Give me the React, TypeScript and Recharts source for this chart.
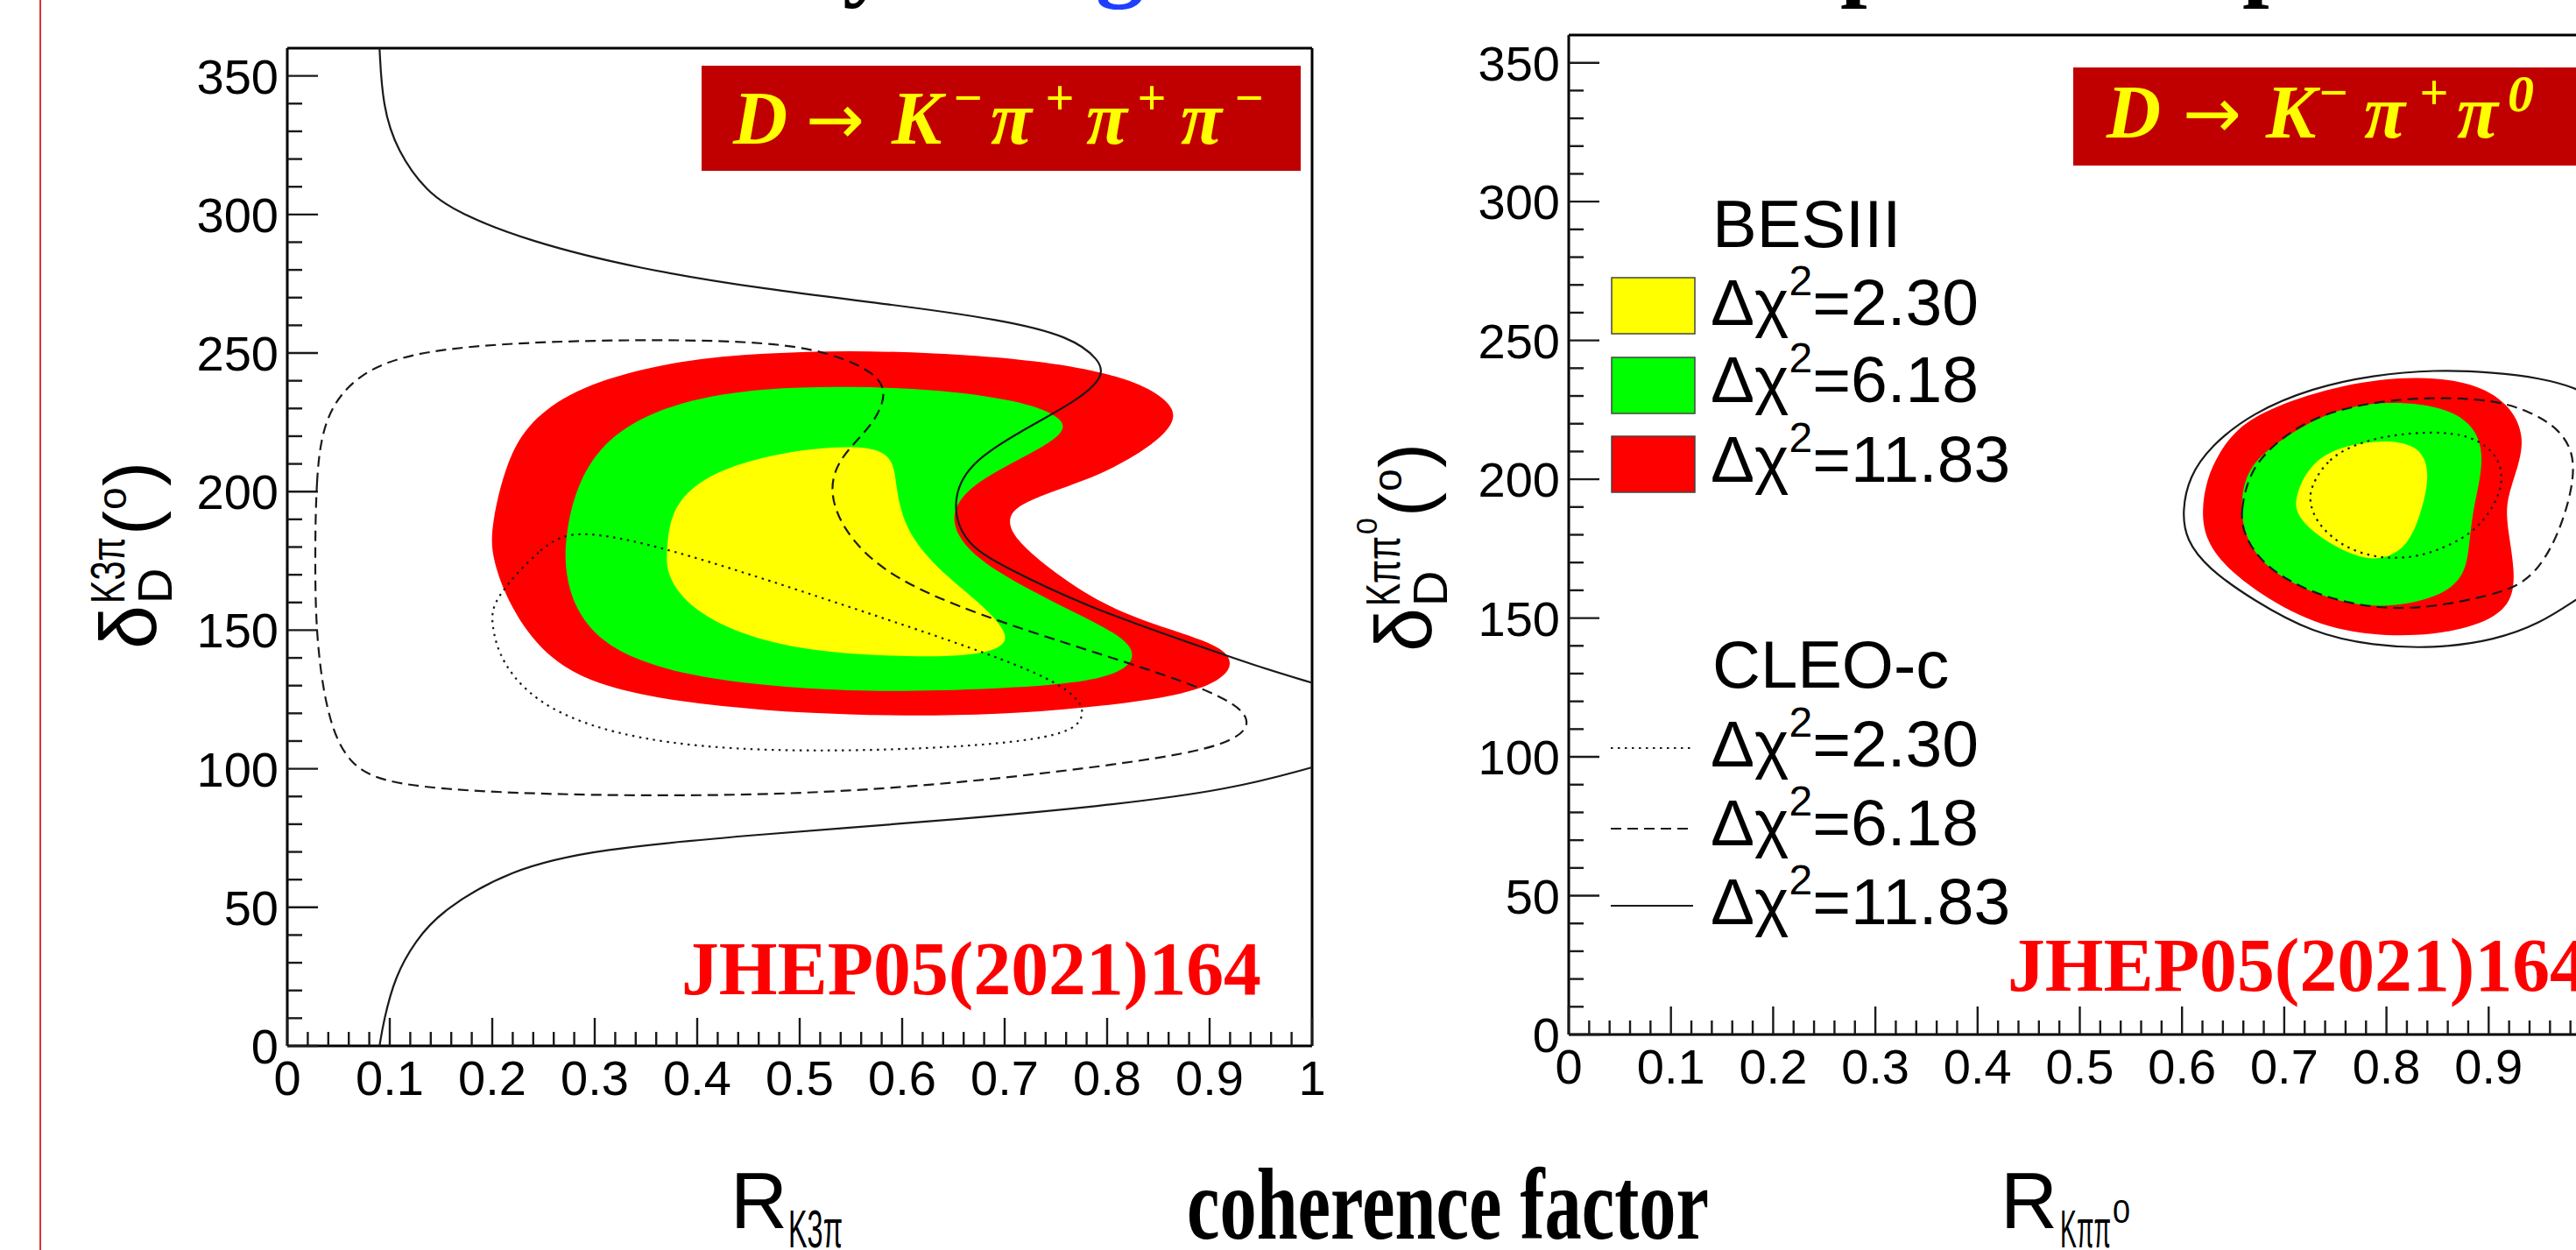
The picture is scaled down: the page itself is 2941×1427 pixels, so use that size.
import React from 'react';
import { ScatterChart, Scatter, XAxis, YAxis, ReferenceLine } from 'recharts';

type Pt = [number, number];

// ---------- D -> K- pi+ pi+ pi- : (R, delta) contours ----------
const K3PI_BES_1183: Pt[] = [
  [0.198, 187], [0.217, 216], [0.25, 230], [0.3, 240], [0.383, 247.5], [0.466, 250], [0.548, 251],
  [0.631, 250], [0.714, 248], [0.78, 244.5], [0.83, 239.5], [0.859, 233], [0.868, 227], [0.855, 220],
  [0.822, 211.5], [0.78, 204], [0.714, 196], [0.702, 190], [0.71, 183], [0.74, 173], [0.797, 158.5],
  [0.863, 150], [0.913, 144], [0.923, 138], [0.913, 132.5], [0.88, 127], [0.797, 122.5], [0.714, 120],
  [0.631, 119], [0.548, 119.5], [0.466, 121], [0.383, 124], [0.3, 130], [0.25, 141], [0.217, 158.5],
  [0.2, 175.5],
];
const K3PI_BES_618: Pt[] = [
  [0.271, 184], [0.283, 204], [0.316, 221.5], [0.383, 233], [0.466, 237.5], [0.548, 238], [0.631, 237],
  [0.714, 233], [0.756, 227], [0.76, 221.5], [0.73, 214.5], [0.673, 204], [0.648, 194], [0.652, 184],
  [0.681, 173], [0.756, 158.5], [0.813, 148.5], [0.83, 141], [0.813, 134], [0.756, 130], [0.631, 128],
  [0.548, 128], [0.466, 130], [0.383, 134], [0.316, 142.5], [0.283, 155.5], [0.271, 170],
];
const K3PI_BES_230: Pt[] = [
  [0.37, 178.5], [0.374, 193], [0.4, 204], [0.449, 211.5], [0.515, 216], [0.573, 216.5], [0.592, 211.5],
  [0.594, 201.5], [0.602, 187], [0.631, 173], [0.681, 158.5], [0.704, 148.5], [0.698, 143.5],
  [0.664, 140.5], [0.59, 140.5], [0.507, 142.5], [0.44, 148.5], [0.391, 158.5], [0.37, 170],
];
const K3PI_CLEO_230: Pt[] = [
  [0.2, 161], [0.25, 181], [0.283, 187], [0.383, 178.5], [0.548, 158.5], [0.714, 138], [0.772, 127],
  [0.78, 118], [0.755, 111], [0.631, 107], [0.466, 106], [0.341, 110], [0.25, 121], [0.208, 138],
  [0.199, 152.5],
];
const K3PI_CLEO_618: Pt[] = [
  [0.027, 175], [0.028, 204], [0.035, 227], [0.068, 243], [0.134, 252], [0.3, 255], [0.466, 254.5],
  [0.532, 250], [0.573, 243], [0.586, 236], [0.573, 224.5], [0.54, 213], [0.528, 201.5], [0.54, 187],
  [0.582, 170], [0.673, 155.5], [0.797, 141], [0.913, 127], [0.942, 118], [0.93, 111], [0.88, 105],
  [0.714, 97], [0.548, 91.5], [0.383, 90], [0.217, 91], [0.1, 94], [0.06, 101], [0.039, 118],
  [0.028, 147],
];
const K3PI_CLEO_1183_UPPER: Pt[] = [
  [0.09, 360], [0.093, 339], [0.107, 323], [0.136, 308], [0.167, 300.5], [0.234, 290.5], [0.341, 280.5],
  [0.466, 273], [0.59, 267.5], [0.698, 262], [0.764, 256], [0.793, 247.5], [0.797, 241.5], [0.772, 233],
  [0.714, 221.5], [0.664, 210], [0.648, 196], [0.66, 181.5], [0.698, 173], [0.78, 158.5], [0.88, 145.5],
  [0.946, 137], [1.0, 131],
];
const K3PI_CLEO_1183_LOWER: Pt[] = [
  [0.09, 0], [0.094, 9], [0.105, 25], [0.125, 38], [0.151, 49], [0.217, 63.5], [0.3, 71], [0.466, 76.5],
  [0.631, 81], [0.797, 86.5], [0.921, 92.5], [1.0, 100.5],
];

// ---------- D -> K- pi+ pi0 : (R, delta) contours ----------
const KPIPI0_BES_1183: Pt[] = [
  [0.619, 188.5], [0.624, 200], [0.636, 209.5], [0.654, 218.5], [0.687, 226], [0.758, 234.5],
  [0.832, 237.5], [0.89, 234.5], [0.923, 226], [0.935, 215], [0.929, 204.5], [0.917, 192.5],
  [0.918, 183], [0.926, 167], [0.923, 154.5], [0.89, 147], [0.831, 143], [0.758, 144.5], [0.699, 153],
  [0.645, 167], [0.623, 178],
];
const KPIPI0_BES_618: Pt[] = [
  [0.657, 193], [0.665, 204], [0.687, 212], [0.743, 225], [0.802, 228.5], [0.861, 226], [0.891, 217.5],
  [0.895, 204.5], [0.884, 188.5], [0.881, 175.5], [0.876, 164], [0.846, 156.5], [0.787, 153],
  [0.728, 158.5], [0.681, 168], [0.66, 180],
];
const KPIPI0_BES_230: Pt[] = [
  [0.709, 193], [0.728, 208], [0.772, 213.5], [0.817, 214], [0.837, 209.5], [0.842, 200.5], [0.834, 188],
  [0.822, 176.5], [0.799, 171], [0.772, 171.5], [0.734, 179], [0.713, 186.5],
];
const KPIPI0_CLEO_230: Pt[] = [
  [0.725, 197], [0.743, 207.7], [0.773, 213.1], [0.802, 215.8], [0.846, 217.3], [0.882, 215.8],
  [0.906, 209.9], [0.914, 202.4], [0.911, 194.9], [0.9, 187.4], [0.882, 179.9], [0.846, 173.5],
  [0.817, 171.4], [0.787, 171.9], [0.758, 175.6], [0.734, 183.1], [0.725, 190.6],
];
const KPIPI0_CLEO_618: Pt[] = [
  [0.66, 179.9], [0.657, 188.5], [0.666, 202.4], [0.687, 212], [0.728, 222.7], [0.787, 228],
  [0.846, 229.6], [0.906, 228.6], [0.941, 224.3], [0.968, 218.4], [0.983, 209.9], [0.983, 199.2],
  [0.974, 186.4], [0.962, 175.7], [0.947, 167.1], [0.929, 161.7], [0.906, 158.6], [0.846, 153.7],
  [0.787, 153.2], [0.728, 158.6], [0.681, 168.2],
];
const KPIPI0_CLEO_1183: Pt[] = [
  [1.0, 229.5], [0.985, 233], [0.95, 236.5], [0.906, 238.5], [0.846, 239.5], [0.787, 237.5],
  [0.728, 233], [0.669, 224], [0.628, 212], [0.607, 201], [0.6, 188.5], [0.604, 178], [0.625, 168],
  [0.669, 156.5], [0.728, 144.5], [0.787, 140], [0.846, 139], [0.906, 142], [0.95, 148], [0.985, 156.5],
  [1.0, 160],
];

// ---------- axes and legend ----------
const X_TICKS = Array.from({ length: 51 }, (_, i) => i / 50);
const X_LABELS = ['0', '0.1', '0.2', '0.3', '0.4', '0.5', '0.6', '0.7', '0.8', '0.9', '1'];
const Y_TICKS = Array.from({ length: 36 }, (_, i) => i * 10);
const Y_LABELS = ['0', '50', '100', '150', '200', '250', '300', '350'];
const LEVELS = ['2.30', '6.18', '11.83'];
const FILL_COLORS = ['#ffff00', '#00ff00', '#ff0000'];
const LINE_DASHES = ['2.5 5.5', '12 7', undefined];

const SANS = '"Liberation Sans", Arial, Helvetica, sans-serif';
const SERIF = '"Liberation Serif", "Times New Roman", Times, serif';
const INK = '#1a1a1a';

const toXY = (pts: Pt[]) => pts.map(([x, y]) => ({ x, y }));
const Blank = () => <g />;

function XTick(props: any) {
  const { x, y, payload } = props;
  const step = Math.round(payload.value * 50);
  const major = step % 5 === 0;
  return (
    <g>
      <line x1={x} x2={x} y1={y} y2={y - (major ? 32 : 16)} stroke={INK} strokeWidth={2.4} />
      {major && (
        <text x={x} y={y + 56} textAnchor="middle" fontFamily={SANS} fontSize={56} fill="#000">
          {X_LABELS[step / 5]}
        </text>
      )}
    </g>
  );
}

function YTick(props: any) {
  const { x, y, payload } = props;
  const step = Math.round(payload.value / 10);
  const major = step % 5 === 0;
  return (
    <g>
      <line x1={x} x2={x + (major ? 35 : 17)} y1={y} y2={y} stroke={INK} strokeWidth={2.4} />
      {major && (
        <text x={x - 10} y={y + 20} textAnchor="end" fontFamily={SANS} fontSize={56} fill="#000">
          {Y_LABELS[step / 5]}
        </text>
      )}
    </g>
  );
}

type Band = { id: string; pts: Pt[]; color: string };
type Contour = { id: string; pts: Pt[]; dash?: string; closed: boolean };

function Panel(props: {
  width: number;
  height: number;
  margin: { top: number; right: number; bottom: number; left: number };
  bands: Band[];
  contours: Contour[];
}) {
  const { width, height, margin, bands, contours } = props;
  return (
    <ScatterChart width={width} height={height} margin={margin}>
      <XAxis
        type="number"
        dataKey="x"
        domain={[0, 1]}
        ticks={X_TICKS}
        interval={0}
        height={1}
        tickSize={0}
        tickMargin={0}
        tickLine={false}
        axisLine={{ stroke: '#000', strokeWidth: 3 }}
        tick={XTick}
      />
      <YAxis
        type="number"
        dataKey="y"
        domain={[0, 360]}
        ticks={Y_TICKS}
        interval={0}
        width={1}
        tickSize={0}
        tickMargin={0}
        tickLine={false}
        axisLine={{ stroke: '#000', strokeWidth: 3 }}
        tick={YTick}
      />
      {bands.map((b) => (
        <Scatter
          key={b.id}
          name={b.id}
          data={toXY(b.pts)}
          isAnimationActive={false}
          line={{ fill: b.color, stroke: 'none' }}
          lineJointType="basisClosed"
          shape={Blank}
        />
      ))}
      {contours.map((c) => (
        <Scatter
          key={c.id}
          name={c.id}
          data={toXY(c.pts)}
          isAnimationActive={false}
          line={{ fill: 'none', stroke: INK, strokeWidth: 2.2, strokeDasharray: c.dash }}
          lineJointType={c.closed ? 'basisClosed' : 'basis'}
          shape={Blank}
        />
      ))}
      <ReferenceLine y={360} stroke="#000" strokeWidth={3} />
      <ReferenceLine x={1} stroke="#000" strokeWidth={3} />
    </ScatterChart>
  );
}

// delta_D^{...}(^o) written bottom-to-top beside the vertical axis
function RotatedTitle(props: { x: number; y: number; sup: string; supLen: number; supZero?: boolean }) {
  const { x, y, sup, supLen, supZero } = props;
  const after = 52 + supLen + (supZero ? 20 : 0);
  return (
    <g transform={`translate(${x},${y}) rotate(-90)`} fontFamily={SANS} fill="#000">
      <text x={0} y={0} fontSize={90}>δ</text>
      <text x={52} y={18} fontSize={56}>D</text>
      <text x={52} y={-36} fontSize={56} textLength={supLen} lengthAdjust="spacingAndGlyphs">
        {sup}
      </text>
      {supZero && (
        <text x={52 + supLen + 2} y={-62} fontSize={34}>0</text>
      )}
      <text x={after + 2} y={0} fontSize={84}>(</text>
      <text x={after + 31} y={-34} fontSize={46}>o</text>
      <text x={after + 58} y={0} fontSize={84}>)</text>
    </g>
  );
}

function LegendRowText(props: { x: number; y: number; level: string }) {
  const { x, y, level } = props;
  return (
    <text x={x} y={y} fontFamily={SANS} fontSize={75} fill="#000">
      Δχ<tspan dy={-34} fontSize={48}>2</tspan>
      <tspan dy={34}>={level}</tspan>
    </text>
  );
}

function Overlay() {
  const besBoxY = [317, 408, 498];
  const besTextY = [371, 459, 550];
  const cleoLineY = [854, 946, 1034];
  const cleoTextY = [875, 965, 1055];
  const boxFont = { fontFamily: SERIF, fontWeight: 700, fontStyle: 'italic' as const, fill: '#ffff00' };
  const arrow = { fontFamily: '"DejaVu Sans", sans-serif', fontWeight: 400, fontStyle: 'normal' as const, fontSize: 80 };
  return (
    <svg
      width={2941}
      height={1427}
      style={{ position: 'absolute', left: 0, top: 0, pointerEvents: 'none' }}
    >
      {/* slide rule and the lower edge of the slide heading */}
      <line x1={46} x2={46} y1={0} y2={1427} stroke="#e03030" strokeWidth={2} />
      <g fontFamily={SERIF} fontWeight={700} fontSize={110}>
        <text x={962} y={-13} fill="#000">y</text>
        <text x={1251} y={-13} fill="#1f3fff">g</text>
        <text x={2101} y={-13} fill="#000">p</text>
        <text x={2560} y={-13} fill="#000">p</text>
      </g>

      {/* channel tags */}
      <rect x={801} y={75} width={684} height={120} fill="#c00000" />
      <text y={164} fontSize={86} {...boxFont}>
        <tspan x={837}>D</tspan>
        <tspan x={920} {...arrow}>→</tspan>
        <tspan x={1018}>K</tspan>
        <tspan x={1087} y={131} fontSize={58}>−</tspan>
        <tspan x={1131} y={164}>π</tspan>
        <tspan x={1193} y={131} fontSize={58}>+</tspan>
        <tspan x={1240} y={164}>π</tspan>
        <tspan x={1298} y={131} fontSize={58}>+</tspan>
        <tspan x={1348} y={164}>π</tspan>
        <tspan x={1408} y={131} fontSize={58}>−</tspan>
      </text>
      <rect x={2367} y={77} width={620} height={112} fill="#c00000" />
      <text y={157} fontSize={86} {...boxFont}>
        <tspan x={2405}>D</tspan>
        <tspan x={2492} {...arrow}>→</tspan>
        <tspan x={2587}>K</tspan>
        <tspan x={2646} y={125} fontSize={58}>−</tspan>
        <tspan x={2699} y={157}>π</tspan>
        <tspan x={2762} y={125} fontSize={58}>+</tspan>
        <tspan x={2805} y={157}>π</tspan>
        <tspan x={2863} y={127} fontSize={60}>0</tspan>
      </text>

      {/* publication reference */}
      <g fontFamily={SERIF} fontWeight={700} fontSize={86} fill="#ff0000">
        <text x={778} y={1135} textLength={662} lengthAdjust="spacingAndGlyphs">JHEP05(2021)164</text>
        <text x={2292} y={1131} textLength={662} lengthAdjust="spacingAndGlyphs">JHEP05(2021)164</text>
      </g>

      {/* legend */}
      <text x={1955} y={282} fontFamily={SANS} fontSize={76} fill="#000">BESIII</text>
      {LEVELS.map((lv, i) => (
        <g key={`bes-${lv}`}>
          <rect x={1840} y={besBoxY[i]} width={95} height={64} fill={FILL_COLORS[i]} stroke="#444" strokeWidth={1.5} />
          <LegendRowText x={1953} y={besTextY[i]} level={lv} />
        </g>
      ))}
      <text x={1955} y={785} fontFamily={SANS} fontSize={76} fill="#000">CLEO-c</text>
      {LEVELS.map((lv, i) => (
        <g key={`cleo-${lv}`}>
          <line x1={1839} x2={1933} y1={cleoLineY[i]} y2={cleoLineY[i]} stroke={INK} strokeWidth={2.2} strokeDasharray={LINE_DASHES[i]} />
          <LegendRowText x={1953} y={cleoTextY[i]} level={lv} />
        </g>
      ))}

      {/* axis titles */}
      <RotatedTitle x={178} y={741} sup="K3π" supLen={76} />
      <RotatedTitle x={1634} y={744} sup="Kππ" supLen={80} supZero />
      <text x={834} y={1402} fontFamily={SANS} fontSize={90} fill="#000">R</text>
      <text x={900} y={1424} fontFamily={SANS} fontSize={62} fill="#000" textLength={62} lengthAdjust="spacingAndGlyphs">K3π</text>
      <text x={2284} y={1402} fontFamily={SANS} fontSize={90} fill="#000">R</text>
      <text x={2352} y={1424} fontFamily={SANS} fontSize={62} fill="#000" textLength={58} lengthAdjust="spacingAndGlyphs">Kππ</text>
      <text x={2412} y={1396} fontFamily={SANS} fontSize={36} fill="#000">0</text>
      <text
        x={1355}
        y={1414}
        fontFamily={SERIF}
        fontWeight={700}
        fontSize={116}
        fill="#000"
        textLength={596}
        lengthAdjust="spacingAndGlyphs"
      >
        coherence factor
      </text>
    </svg>
  );
}

const LEFT_BANDS: Band[] = [
  { id: 'k3pi-bes-1183', pts: K3PI_BES_1183, color: FILL_COLORS[2] },
  { id: 'k3pi-bes-618', pts: K3PI_BES_618, color: FILL_COLORS[1] },
  { id: 'k3pi-bes-230', pts: K3PI_BES_230, color: FILL_COLORS[0] },
];
const LEFT_CONTOURS: Contour[] = [
  { id: 'k3pi-cleo-230', pts: K3PI_CLEO_230, dash: LINE_DASHES[0], closed: true },
  { id: 'k3pi-cleo-618', pts: K3PI_CLEO_618, dash: LINE_DASHES[1], closed: true },
  { id: 'k3pi-cleo-1183-up', pts: K3PI_CLEO_1183_UPPER, closed: false },
  { id: 'k3pi-cleo-1183-lo', pts: K3PI_CLEO_1183_LOWER, closed: false },
];
const RIGHT_BANDS: Band[] = [
  { id: 'kpipi0-bes-1183', pts: KPIPI0_BES_1183, color: FILL_COLORS[2] },
  { id: 'kpipi0-bes-618', pts: KPIPI0_BES_618, color: FILL_COLORS[1] },
  { id: 'kpipi0-bes-230', pts: KPIPI0_BES_230, color: FILL_COLORS[0] },
];
const RIGHT_CONTOURS: Contour[] = [
  { id: 'kpipi0-cleo-230', pts: KPIPI0_CLEO_230, dash: LINE_DASHES[0], closed: true },
  { id: 'kpipi0-cleo-618', pts: KPIPI0_CLEO_618, dash: LINE_DASHES[1], closed: true },
  { id: 'kpipi0-cleo-1183', pts: KPIPI0_CLEO_1183, closed: false },
];

export default function App() {
  return (
    <div
      style={{
        position: 'absolute',
        left: 0,
        top: 0,
        width: 2941,
        height: 1427,
        overflow: 'hidden',
        background: '#fff',
      }}
    >
      <div style={{ position: 'absolute', left: 0, top: 0 }}>
        <Panel
          width={1540}
          height={1427}
          margin={{ top: 55, right: 42, bottom: 232, left: 327 }}
          bands={LEFT_BANDS}
          contours={LEFT_CONTOURS}
        />
      </div>
      <div style={{ position: 'absolute', left: 1520, top: 0 }}>
        <Panel
          width={1460}
          height={1427}
          margin={{ top: 40, right: 22, bottom: 245, left: 270 }}
          bands={RIGHT_BANDS}
          contours={RIGHT_CONTOURS}
        />
      </div>
      <Overlay />
    </div>
  );
}
